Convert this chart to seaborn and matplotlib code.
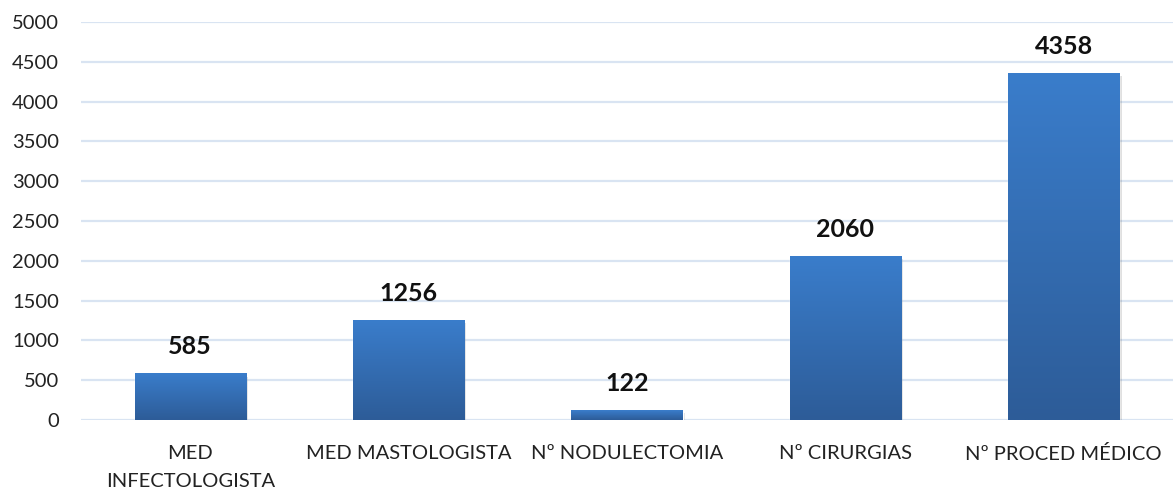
import numpy as np
import pandas as pd
import matplotlib
matplotlib.use("Agg")
import matplotlib.pyplot as plt
import seaborn as sns
from matplotlib.colors import LinearSegmentedColormap

categories = ["MED\nINFECTOLOGISTA", "MED MASTOLOGISTA", "Nº NODULECTOMIA", "Nº CIRURGIAS", "Nº PROCED MÉDICO"]
values = [585, 1256, 122, 2060, 4358]
yticks = [0, 500, 1000, 1500, 2000, 2500, 3000, 3500, 4000, 4500, 5000]

sns.set_theme(style="white")
plt.rcParams['font.family'] = ['Lato', 'DejaVu Sans']

fig = plt.figure(figsize=(11.73, 4.88), dpi=100)
ax = fig.add_axes([81/1173, 68/488, 1 - 81/1173, (420-22)/488])

df = pd.DataFrame({"cat": categories, "val": values})
sns.barplot(data=df, x="cat", y="val", ax=ax, width=0.51, color="#3A7DCB", saturation=1, zorder=3)

ax.set_ylim(0, 5000)
ax.set_xlim(-0.5, 4.5)
ax.set_yticks(yticks)
ax.set_yticklabels([str(t) for t in yticks], fontsize=14.5, color="#222222")
ax.set_xticks(range(len(categories)))
ax.set_xticklabels(categories, fontsize=14.5, color="#222222", linespacing=1.8)
ax.tick_params(axis="x", pad=18, length=0)
ax.tick_params(axis="y", length=0, pad=16)
ax.set_xlabel("")
ax.set_ylabel("")
for s in ax.spines.values():
    s.set_visible(False)
ax.yaxis.grid(True, color="#D9E4F2", linewidth=1.6, zorder=0)
ax.set_axisbelow(True)

cmap = LinearSegmentedColormap.from_list("g", ["#2D5C98", "#3A7DCB"])
grad = np.linspace(0, 1, 256).reshape(-1, 1)
for p in list(ax.patches):
    x0, y0 = p.get_x(), p.get_y()
    w, h = p.get_width(), p.get_height()
    sh = plt.Rectangle((x0 + 0.01, y0 - 40), w, h, facecolor="#000000", alpha=0.12, zorder=2, linewidth=0)
    ax.add_patch(sh)
    im = ax.imshow(grad, extent=[x0, x0 + w, y0, y0 + h], origin="lower", cmap=cmap,
                   aspect="auto", zorder=4)
    im.set_clip_path(p)
    ax.text(x0 + w / 2, y0 + h + 190, f"{int(h)}", ha="center", va="bottom",
            fontsize=18, fontweight="bold", color="#111111", zorder=5)

ax.set_xlim(-0.5, 4.5)
ax.set_ylim(0, 5000)
fig.savefig("out.png", dpi=100)
